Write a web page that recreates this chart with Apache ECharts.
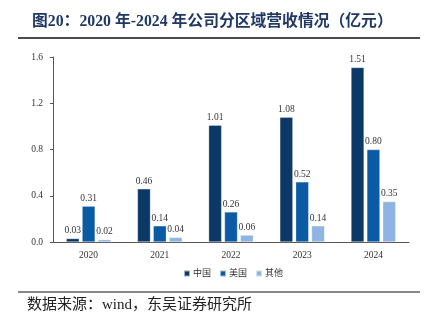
<!DOCTYPE html>
<html><head><meta charset="utf-8">
<script src="https://cdn.jsdelivr.net/npm/echarts@6/dist/echarts.min.js"></script>
<style>html,body{margin:0;padding:0;background:#fff}#c{width:428px;height:324px}</style>
</head><body><div id="c"></div>
<script>
var categories = ['2020','2021','2022','2023','2024'];
var seriesNames = ['中国','美国','其他'];
var china = [0.03, 0.46, 1.01, 1.08, 1.51];
var usa = [0.31, 0.14, 0.26, 0.52, 0.80];
var other = [0.02, 0.04, 0.06, 0.14, 0.35];
var yTicks = [0, 0.4, 0.8, 1.2, 1.6];
var colors = ['#0b3866', '#0a5aa5', '#8fb4e3'];
var serif = '"Liberation Serif","Noto Sans CJK SC",serif';
var chart = echarts.init(document.getElementById('c'), null, {renderer:'canvas'});
function mk(name, data, i){
  return {name:name, type:'bar', data:data, barWidth:13, barGap:'22%',
    itemStyle:{color:colors[i], borderColor:'rgba(255,255,255,0.6)', borderWidth:0.5},
    label:{show:true, position:'top', distance:3, color:'#333', fontFamily:serif, fontSize:9.5,
      formatter:function(p){return p.value.toFixed(2);}}};
}
chart.setOption({
  animation:false,
  title:{text:'图20：2020 年-2024 年公司分区域营收情况（亿元）', left:27, top:9,
    textStyle:{fontFamily:serif, fontWeight:'bold', fontSize:15.8, color:'#1f3864'}},
  graphic:[
    {type:'line', shape:{x1:18,y1:38,x2:420,y2:38}, style:{stroke:'#111', lineWidth:1.6}},
    {type:'line', shape:{x1:18,y1:292,x2:420,y2:292}, style:{stroke:'#111', lineWidth:1.2}},
    {type:'text', left:27, top:298, style:{text:'数据来源：wind，东吴证券研究所', font:'15px '+serif, fill:'#222'}}
  ],
  legend:{data:seriesNames, top:264, left:178, itemWidth:6, itemHeight:6, itemGap:8, icon:'rect',
    textStyle:{fontFamily:serif, fontSize:9, color:'#333', padding:[0,0,0,-2]}},
  grid:{left:53, right:19, top:57, bottom:82},
  xAxis:{type:'category', data:categories,
    axisLine:{lineStyle:{color:'#555', width:1}}, axisTick:{show:false},
    axisLabel:{fontFamily:serif, fontSize:9.5, color:'#333', margin:9}},
  yAxis:{type:'value', min:0, max:1.6, interval:0.4,
    axisLine:{show:true, lineStyle:{color:'#555', width:1}},
    axisTick:{show:true, inside:false, length:3, lineStyle:{color:'#555'}},
    splitLine:{show:false},
    axisLabel:{fontFamily:serif, fontSize:9.5, color:'#333', margin:10,
      formatter:function(v){return v.toFixed(1);}}},
  series:[mk(seriesNames[0], china, 0), mk(seriesNames[1], usa, 1), mk(seriesNames[2], other, 2)]
});
</script></body></html>
